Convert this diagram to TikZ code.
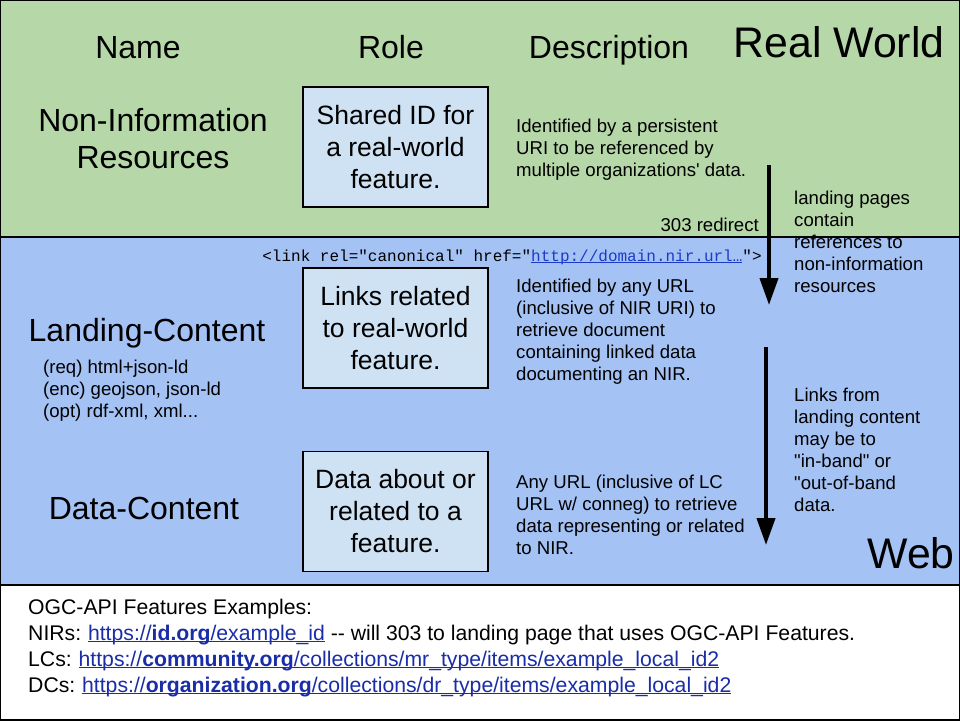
\documentclass[tikz,border=0pt]{standalone}
\usepackage{fontspec}
\setmainfont{Liberation Sans}
\newfontfamily\codefont{Liberation Mono}
\usetikzlibrary{arrows.meta}
\definecolor{WorldGreen}{HTML}{B6D7A8}
\definecolor{WebBlue}{HTML}{A4C2F4}
\definecolor{RoleBlue}{HTML}{CFE2F3}
\definecolor{LinkBlue}{HTML}{1A2DA8}
\definecolor{CodeBlue}{HTML}{1A3BC8}
\newcommand{\weblink}[2][LinkBlue]{{\color{#1}\setbox0\hbox{#2}\rlap{\rule[-2.3pt]{\wd0}{1.1pt}}\box0}}
\begin{document}
\begin{tikzpicture}[x=1pt,y=-1pt,>={Triangle[width=18pt,length=27pt]},
      band/.style={draw=black,line width=1.3pt},
      rolebox/.style={draw=black,fill=RoleBlue,line width=1.2pt,minimum width=185pt,minimum height=120pt,
                      align=center,inner sep=0pt,font=\fontsize{26.5}{32}\selectfont},
      head/.style={anchor=base,align=center,inner sep=0pt,font=\fontsize{32}{37}\selectfont},
      big/.style={anchor=base,inner sep=0pt,font=\fontsize{42.8}{50}\selectfont},
      note/.style={anchor=base west,align=left,inner sep=0pt,font=\fontsize{18.6}{22}\selectfont},
      flow/.style={->,line width=4pt}]
    \useasboundingbox (0,0) rectangle (960,720);
    \path[band,fill=WorldGreen] (0,0) rectangle (960,237);
    \path[band,fill=WebBlue] (0,237) rectangle (960,585);
    \path[band,fill=white] (0,585) rectangle (960,720);
    \node[head] (name) at (138,58) {Name};
    \node[head] (role) at (391,58) {Role};
    \node[head] (desc) at (609,58) {Description};
    \node[big] (real) at (839,57) {Real World};
    \node[big] (web) at (911,568) {Web};
    \node[head] (nir) at (153,168) {Non-Information\\Resources};
    \node[head] (lc) at (147,341) {Landing-Content};
    \node[head] (dc) at (144,519) {Data-Content};
    \node[note] (formats) at (43,417) {(req) html+json-ld\\(enc) geojson, json-ld\\(opt) rdf-xml, xml...};
    \node[rolebox] (shared) at (395.5,147) {Shared ID for\\a real-world\\feature.};
    \node[rolebox] (links) at (395.5,328) {Links related\\to real-world\\feature.};
    \node[rolebox] (data) at (395.5,511.5) {Data about or\\related to a\\feature.};
    \node[note] (nirdesc) at (516,176) {Identified by a persistent\\URI to be referenced by\\multiple organizations\textquotesingle\ data.};
    \node[note] (lcdesc) at (516,380) {Identified by any URL\\(inclusive of NIR URI) to\\retrieve document\\containing linked data\\documenting an NIR.};
    \node[note] (dcdesc) at (516,554) {Any URL (inclusive of LC\\URL w/ conneg) to retrieve\\data representing or related\\to NIR.};
    \node[note,anchor=base east] (redirect) at (759,231) {303 redirect};
    \node[note] (refs) at (794,292) {landing pages\\contain\\references to\\non-information\\resources};
    \node[note] (bands) at (794,511) {Links from\\landing content\\may be to\\\textquotedbl in-band\textquotedbl\ or\\\textquotedbl out-of-band\\data.};
    \node[anchor=base,inner sep=0pt,font=\codefont\fontsize{16}{20}\selectfont] (canon) at (512,261)
      {<link rel="canonical" href="\weblink[CodeBlue]{http://domain.nir.url…}">};
    \coordinate (redirtop) at (769,165);
    \coordinate (redirend) at (769,305);
    \coordinate (linktop) at (766,347);
    \coordinate (linkend) at (766,545);
    \draw[flow] (redirtop) -- (redirend);
    \draw[flow] (linktop) -- (linkend);
    \node[anchor=base west,align=left,inner sep=0pt,font=\fontsize{21.2}{26}\selectfont] (examples) at (28,692)
      {OGC-API Features Examples:\\
       NIRs:\hspace{-1pt} \weblink{https://\textbf{id.org}/example\_id} -{}- will 303 to landing page that uses OGC-API Features.\\
       LCs:\hspace{-1pt} \weblink{https://\textbf{community.org}/collections/mr\_type/items/example\_local\_id2}\\
       DCs:\hspace{-1pt} \weblink{https://\textbf{organization.org}/collections/dr\_type/items/example\_local\_id2}};
  \end{tikzpicture}
\end{document}
